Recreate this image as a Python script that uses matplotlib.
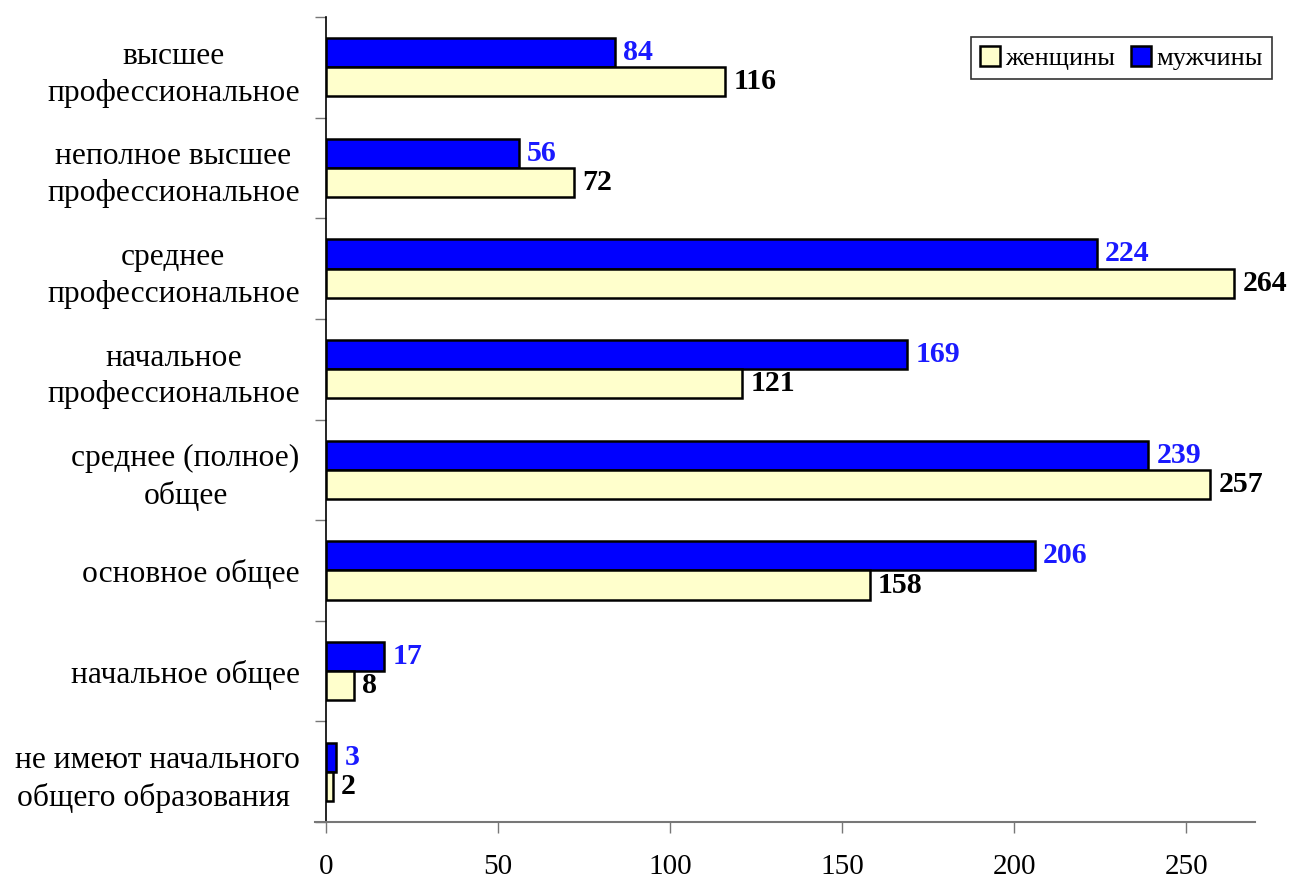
import matplotlib.pyplot as plt
import numpy as np

# --- Data ---
categories = [
    "высшее\nпрофессиональное",
    "неполное высшее\nпрофессиональное",
    "среднее\nпрофессиональное",
    "начальное\nпрофессиональное",
    "среднее (полное)\nобщее",
    "основное общее",
    "начальное общее",
    "не имеют начального\nобщего образования ",
]
women = [116, 72, 264, 121, 257, 158, 8, 2]
men = [84, 56, 224, 169, 239, 206, 17, 3]

plt.rcParams['font.family'] = ['Liberation Serif', 'DejaVu Serif']

fig = plt.figure(figsize=(12.92, 8.82), dpi=100)
ax = fig.add_axes([326 / 1292, 1 - 822 / 882, (1255 - 326) / 1292, (822 - 17) / 882])

y = np.arange(len(categories))
h = 0.29

# --- Bars ---
ax.barh(y - h / 2, men, height=h, color='#0000FF', edgecolor='black', linewidth=1.8, label='мужчины')
ax.barh(y + h / 2, women, height=h, color='#FFFFCC', edgecolor='black', linewidth=1.8, label='женщины')

for yi, m, w in zip(y, men, women):
    ax.annotate(str(m), (m, yi - h / 2), xytext=(6, 0), textcoords='offset points',
                va='center', ha='left', fontsize=21.5, fontweight='bold', color='#1a1aff')
    ax.annotate(str(w), (w, yi + h / 2), xytext=(6, 0), textcoords='offset points',
                va='center', ha='left', fontsize=21.5, fontweight='bold', color='black')

# --- Axes ---
ax.set_xlim(0, 270)
ax.set_ylim(len(categories) - 0.5, -0.5)
ax.set_xticks([0, 50, 100, 150, 200, 250])
ax.tick_params(axis='x', labelsize=21, length=8, width=1, color='#777777', pad=15)

ax.set_yticks(y)
ax.set_yticklabels(categories, fontsize=22.7, multialignment='center', linespacing=1.35)
ax.tick_params(axis='y', length=0, pad=19)
ax.set_yticks(np.arange(len(categories) + 1) - 0.5, minor=True)
ax.tick_params(axis='y', which='minor', length=8, width=1, color='#777777')

for s in ['top', 'right']:
    ax.spines[s].set_visible(False)
ax.spines['left'].set_color('black')
ax.spines['left'].set_linewidth(1.2)
ax.spines['bottom'].set_color('#777777')
ax.spines['bottom'].set_linewidth(1.5)
ax.spines['bottom'].set_bounds(-3.2, 270)

# --- Legend ---
handles, labels = ax.get_legend_handles_labels()
leg = ax.legend(handles[::-1], labels[::-1], loc='upper right', bbox_to_anchor=(1.018, 0.975),
                ncol=2, fontsize=19, frameon=True, fancybox=False, edgecolor='black',
                handlelength=0.75, handleheight=0.75, handletextpad=0.2, columnspacing=0.6,
                borderpad=0.35, borderaxespad=0)
leg.get_frame().set_linewidth(1.2)

fig.savefig('out.png', dpi=100)
